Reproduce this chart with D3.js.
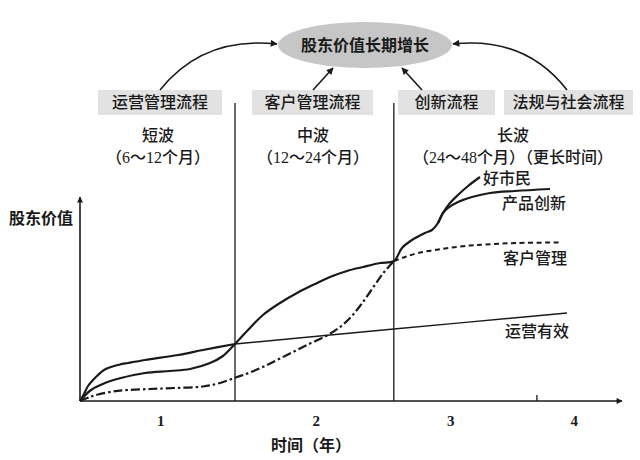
<!DOCTYPE html>
<html>
<head>
<meta charset="utf-8">
<script src="https://cdn.jsdelivr.net/npm/d3@7"></script>
<style>
  html, body { margin: 0; padding: 0; background: #fff; }
  svg { display: block; }
  text { font-family: "Liberation Serif", "Noto Sans CJK SC", serif; fill: #1a1a1a; }
</style>
</head>
<body>
<svg id="chart" width="640" height="460"></svg>
<script>
// ---------- data (time: 0-100 abstract units, value: 0-100 abstract units) ----------
const title = "股东价值长期增长";
const processNames = ["运营管理流程", "客户管理流程", "创新流程", "法规与社会流程"];
const waveNames = ["短波", "中波", "长波"];
const waveSpans = ["（6～12个月）", "（12～24个月）", "（24～48个月）（更长时间）"];
const tickLabels = ["1", "2", "3", "4"];
const tickPos = [14.8, 43.5, 68.3, 91.1];
const phaseBounds = [28.6, 57.9];
const minorTicks = [84.3];
const xTitle = "时间（年）";
const yTitle = "股东价值";

// 运营有效 — early (thick) part and later (thin) part
const opsEarly = [[0,0],[0.74,3.43],[1.48,7.35],[2.40,10.29],[3.32,12.75],[4.43,15.20],[5.72,16.67],[7.38,17.89],
  [8.86,18.63],[11.99,20.10],[18.08,22.55],[22.69,25.0],[28.6,27.94]];
const opsLate = [[28.6,27.94],[57.93,35.29],[89.85,43.14]];
// main solid curve: 客户 → 产品创新
const productCurve = [[0,0],[2.03,5.39],[4.61,8.82],[7.56,11.27],[11.99,13.73],[16.61,14.71],[20.30,15.69],[23.99,18.63],
  [26.38,22.06],[28.6,27.94],[31.0,34.80],[33.76,42.16],[36.90,48.04],[40.04,52.94],[43.36,57.35],[46.13,60.78],
  [49.26,63.73],[52.21,65.69],[55.35,67.65],[57.93,68.63],[59.41,75.0],[61.25,78.92],[63.65,82.35],[64.94,83.82],
  [66.05,87.25],[66.97,92.16],[67.90,94.61],[69.74,97.55],[72.32,100.0],[75.65,101.96],[80.26,102.94],[86.72,103.92]];
// 好市民 branch
const citizenCurve = [[66.05,87.25],[66.97,92.16],[68.27,97.06],[69.74,100.98],[71.59,105.39],[73.80,109.80]];
// 客户管理 — dash-dot early part, dashed late part
const customerEarly = [[0,0],[1.85,1.96],[3.32,3.19],[6.09,4.66],[8.86,5.39],[12.92,5.88],[17.53,6.37],[22.69,7.11],
  [25.83,8.82],[28.97,11.76],[31.37,13.97],[34.13,17.16],[36.90,20.83],[39.67,24.51],[42.44,28.19],[45.57,32.11],
  [47.97,36.27],[49.82,40.69],[51.66,46.57],[53.51,53.43],[55.90,62.50],[57.93,68.63]];
const customerLate = [[57.93,68.63],[59.96,70.59],[62.36,72.55],[65.5,74.02],[68.63,75.25],[71.96,76.23],[74.72,76.72],
  [80.81,77.45],[88.56,77.70]];
const seriesLabels = ["好市民", "产品创新", "客户管理", "运营有效"];

// ---------- layout ----------
const svg = d3.select("#chart");
const ink = "#1a1a1a";
const x = d3.scaleLinear().domain([0, 100]).range([80, 622]);
const y = d3.scaleLinear().domain([0, 100]).range([401, 197]);

const defs = svg.append("defs");
defs.append("marker").attr("id", "arr").attr("viewBox", "0 0 10 10")
  .attr("refX", 9).attr("refY", 5).attr("markerWidth", 9).attr("markerHeight", 7)
  .attr("markerUnits", "userSpaceOnUse").attr("orient", "auto")
  .append("path").attr("d", "M0,0 L10,5 L0,10 Z").attr("fill", ink);
defs.append("marker").attr("id", "arrSmall").attr("viewBox", "0 0 10 10")
  .attr("refX", 9).attr("refY", 5).attr("markerWidth", 9).attr("markerHeight", 6)
  .attr("markerUnits", "userSpaceOnUse").attr("orient", "auto")
  .append("path").attr("d", "M0,0 L10,5 L0,10 Z").attr("fill", ink);

// ellipse + title
svg.append("ellipse").attr("cx", 365).attr("cy", 45).attr("rx", 87).attr("ry", 23).attr("fill", "#c6c6c6");
svg.append("text").attr("x", 365).attr("y", 45).attr("dy", "0.36em").attr("text-anchor", "middle")
  .attr("font-size", 16).attr("font-weight", "bold").text(title);

// process boxes
const boxes = [[98, 222], [252, 373], [398, 495], [504, 633]];
boxes.forEach((b, i) => {
  svg.append("rect").attr("x", b[0]).attr("y", 90).attr("width", b[1] - b[0]).attr("height", 25).attr("fill", "#e2e2e2");
  svg.append("text").attr("x", (b[0] + b[1]) / 2).attr("y", 102.5).attr("dy", "0.36em").attr("text-anchor", "middle")
    .attr("font-size", 16).attr("font-weight", 500).text(processNames[i]);
});

// arrows to ellipse
const arrowPaths = [
  "M160,90 Q203,36 277,44",
  "M313,90 L333,68",
  "M422,90 L402,68",
  "M567,90 Q525,36 453,44"
];
arrowPaths.forEach(d => svg.append("path").attr("d", d).attr("fill", "none").attr("stroke", ink)
  .attr("stroke-width", 1.6).attr("marker-end", "url(#arr)"));

// wave labels
const waveCenters = [158, 313, 513];
waveCenters.forEach((cx, i) => {
  svg.append("text").attr("x", cx).attr("y", 135).attr("dy", "0.36em").attr("text-anchor", "middle")
    .attr("font-size", 16).attr("font-weight", 500).text(waveNames[i]);
  svg.append("text").attr("x", cx).attr("y", 157).attr("dy", "0.36em").attr("text-anchor", "middle")
    .attr("font-size", 16).attr("font-weight", 500).text(waveSpans[i]);
});

// phase boundaries
phaseBounds.forEach(v => svg.append("line").attr("x1", x(v)).attr("x2", x(v)).attr("y1", 103).attr("y2", y(0))
  .attr("stroke", ink).attr("stroke-width", 1.3));

// axes
svg.append("line").attr("x1", x(0)).attr("y1", y(0)).attr("x2", x(0)).attr("y2", 197)
  .attr("stroke", ink).attr("stroke-width", 1.6).attr("marker-end", "url(#arrSmall)");
svg.append("line").attr("x1", x(0)).attr("y1", y(0)).attr("x2", 622).attr("y2", y(0))
  .attr("stroke", ink).attr("stroke-width", 1.6).attr("marker-end", "url(#arrSmall)");
minorTicks.forEach(v => svg.append("line").attr("x1", x(v)).attr("x2", x(v)).attr("y1", y(0) - 6).attr("y2", y(0))
  .attr("stroke", ink).attr("stroke-width", 1.3));

const xAxis = d3.axisBottom(x).tickValues(tickPos).tickFormat((d, i) => tickLabels[i]).tickSize(0).tickPadding(14);
const gx = svg.append("g").attr("transform", `translate(0,${y(0)})`).call(xAxis);
gx.select(".domain").remove();
gx.selectAll("text").attr("font-size", 15).attr("font-weight", "bold")
  .style("font-family", '"Liberation Serif", serif').attr("fill", ink);

svg.append("text").attr("x", 311).attr("y", 445).attr("dy", "0.36em").attr("text-anchor", "middle")
  .attr("font-size", 16).attr("font-weight", "bold").text(xTitle);
svg.append("text").attr("x", 41).attr("y", 218).attr("dy", "0.36em").attr("text-anchor", "middle")
  .attr("font-size", 16).attr("font-weight", "bold").text(yTitle);

// curves
const line = d3.line().x(d => x(d[0])).y(d => y(d[1])).curve(d3.curveCatmullRom.alpha(0.5));
const draw = (data, w, dash) => svg.append("path").datum(data).attr("d", line)
  .attr("fill", "none").attr("stroke", ink).attr("stroke-width", w)
  .attr("stroke-dasharray", dash || null).attr("stroke-linecap", "butt");

draw(opsEarly, 2.2);
draw(opsLate, 1.4);
draw(customerEarly, 2.2, "9,3,2.5,3");
draw(customerLate, 2, "5,3.5");
draw(productCurve, 2.2);
draw(citizenCurve, 2.2);

// series labels
const labelPos = [[483, 178], [502, 203], [503, 258], [505, 331]];
labelPos.forEach((p, i) => svg.append("text").attr("x", p[0]).attr("y", p[1]).attr("dy", "0.36em")
  .attr("font-size", 16).attr("font-weight", 500).text(seriesLabels[i]));
</script>
</body>
</html>
